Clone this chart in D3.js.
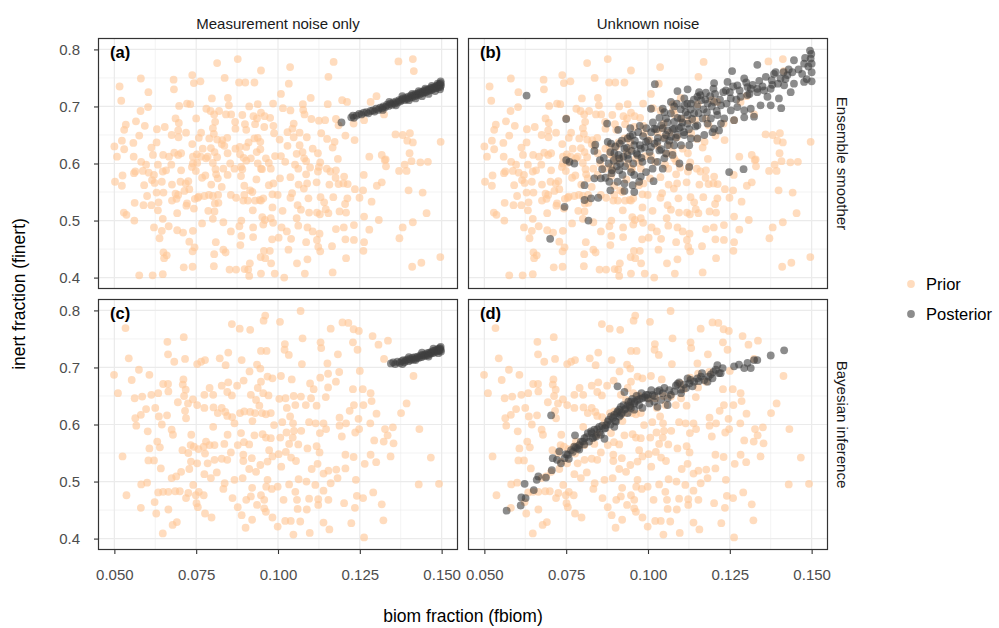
<!DOCTYPE html>
<html><head><meta charset="utf-8">
<script src="https://cdn.jsdelivr.net/npm/d3@7"></script>
<style>body{margin:0;background:#fff}svg{display:block}text{font-family:"Liberation Sans",Arial,sans-serif}</style>
</head><body><svg id="c" width="999" height="628"></svg>
<script>
const colLabels = ["Measurement noise only", "Unknown noise"];
const rowLabels = ["Ensemble smoother", "Bayesian inference"];
const panelTags = ["(a)", "(b)", "(c)", "(d)"];
const seriesNames = ["Prior", "Posterior"];
const xTicks = [0.05, 0.075, 0.1, 0.125, 0.15];
const yTicks = [0.4, 0.5, 0.6, 0.7, 0.8];
const xMinor = [0.0625, 0.0875, 0.1125, 0.1375];
const yMinor = [0.45, 0.55, 0.65, 0.75];
const xTitle = "biom fraction (fbiom)";
const yTitle = "inert fraction (finert)";

// prior sample (same for both panels in the top row)
const priorTop = [[0.0814,0.776],[0.0877,0.783],[0.0948,0.763],[0.0581,0.749],[0.0516,0.735],[0.0681,0.747],[0.0738,0.755],[0.0743,0.741],[0.0763,0.744],[0.0837,0.750],[0.0881,0.742],[0.0900,0.742],[0.0928,0.742],[0.0604,0.725],[0.0682,0.730],[0.0521,0.710],[0.0798,0.714],[0.0847,0.715],[0.0850,0.702],[0.0603,0.699],[0.0698,0.701],[0.0722,0.705],[0.0732,0.704],[0.0781,0.696],[0.0794,0.692],[0.0912,0.700],[0.0938,0.704],[0.0985,0.705],[0.0580,0.692],[0.0687,0.679],[0.0750,0.679],[0.0805,0.686],[0.0820,0.692],[0.0841,0.686],[0.0857,0.686],[0.0891,0.685],[0.0925,0.683],[0.0948,0.689],[0.0976,0.680],[0.0959,0.683],[0.0535,0.668],[0.0566,0.674],[0.0593,0.666],[0.0630,0.660],[0.0654,0.664],[0.0697,0.671],[0.0719,0.654],[0.0808,0.673],[0.0801,0.662],[0.0869,0.673],[0.0870,0.661],[0.0899,0.669],[0.0930,0.669],[0.0936,0.679],[0.0958,0.664],[0.0986,0.666],[0.0903,0.659],[0.0530,0.659],[0.0576,0.649],[0.0675,0.650],[0.0695,0.658],[0.0696,0.646],[0.0758,0.645],[0.0765,0.654],[0.0790,0.644],[0.0804,0.652],[0.0814,0.642],[0.0830,0.641],[0.0845,0.645],[0.0938,0.645],[0.0988,0.653],[0.0928,0.644],[0.0946,0.638],[0.0523,0.640],[0.0500,0.630],[0.0558,0.636],[0.0613,0.628],[0.0629,0.637],[0.0738,0.634],[0.0770,0.626],[0.0795,0.627],[0.0828,0.634],[0.0836,0.631],[0.0870,0.626],[0.0883,0.629],[0.0903,0.629],[0.0910,0.637],[0.0935,0.620],[0.0946,0.625],[0.0530,0.625],[0.0508,0.612],[0.0559,0.612],[0.0618,0.615],[0.0649,0.615],[0.0667,0.612],[0.0695,0.615],[0.0683,0.619],[0.0704,0.618],[0.0740,0.612],[0.0752,0.616],[0.0764,0.612],[0.0785,0.612],[0.0806,0.620],[0.0814,0.611],[0.0846,0.618],[0.0884,0.616],[0.0895,0.610],[0.0917,0.609],[0.0963,0.609],[0.0991,0.613],[0.0582,0.603],[0.0597,0.598],[0.0633,0.598],[0.0674,0.598],[0.0740,0.600],[0.0753,0.601],[0.0737,0.594],[0.0780,0.609],[0.0801,0.601],[0.0854,0.600],[0.0887,0.594],[0.0903,0.605],[0.0938,0.600],[0.0948,0.591],[0.0972,0.601],[0.0564,0.586],[0.0587,0.587],[0.0605,0.584],[0.0621,0.580],[0.0648,0.586],[0.0658,0.588],[0.0704,0.588],[0.0749,0.587],[0.0809,0.590],[0.0833,0.591],[0.0867,0.591],[0.0891,0.590],[0.0951,0.590],[0.0978,0.591],[0.0525,0.579],[0.0502,0.568],[0.0523,0.561],[0.0560,0.583],[0.0591,0.562],[0.0615,0.571],[0.0645,0.568],[0.0623,0.566],[0.0676,0.563],[0.0702,0.568],[0.0718,0.565],[0.0726,0.569],[0.0768,0.575],[0.0778,0.579],[0.0796,0.563],[0.0811,0.581],[0.0816,0.574],[0.0846,0.580],[0.0887,0.578],[0.0934,0.572],[0.0986,0.565],[0.0972,0.562],[0.0600,0.543],[0.0629,0.549],[0.0650,0.549],[0.0687,0.547],[0.0695,0.545],[0.0714,0.552],[0.0729,0.555],[0.0758,0.542],[0.0775,0.543],[0.0789,0.545],[0.0801,0.543],[0.0817,0.545],[0.0828,0.559],[0.0856,0.545],[0.0872,0.540],[0.0897,0.561],[0.0915,0.553],[0.0922,0.550],[0.0944,0.536],[0.0983,0.546],[0.0897,0.545],[0.0562,0.531],[0.0589,0.527],[0.0613,0.527],[0.0635,0.532],[0.0676,0.535],[0.0690,0.538],[0.0722,0.530],[0.0746,0.538],[0.0755,0.540],[0.0743,0.521],[0.0807,0.530],[0.0818,0.531],[0.0894,0.535],[0.0908,0.535],[0.0930,0.535],[0.0948,0.535],[0.0955,0.539],[0.0529,0.514],[0.0537,0.510],[0.0561,0.500],[0.0633,0.518],[0.0648,0.503],[0.0692,0.513],[0.0720,0.526],[0.0787,0.517],[0.0806,0.516],[0.0801,0.503],[0.0833,0.497],[0.0888,0.500],[0.0923,0.518],[0.0952,0.506],[0.0960,0.501],[0.0978,0.504],[0.0983,0.523],[0.0621,0.488],[0.0645,0.482],[0.0666,0.490],[0.0692,0.483],[0.0710,0.479],[0.0740,0.482],[0.0768,0.495],[0.0856,0.481],[0.0882,0.490],[0.0924,0.488],[0.0955,0.493],[0.0985,0.496],[0.0638,0.469],[0.0729,0.463],[0.0745,0.453],[0.0739,0.446],[0.0810,0.462],[0.0805,0.441],[0.0833,0.449],[0.0840,0.444],[0.0888,0.473],[0.0885,0.457],[0.0924,0.471],[0.0957,0.447],[0.0975,0.447],[0.0982,0.467],[0.0650,0.444],[0.0660,0.439],[0.0652,0.434],[0.0712,0.418],[0.0739,0.419],[0.0804,0.420],[0.0852,0.414],[0.0872,0.414],[0.0898,0.415],[0.0914,0.425],[0.0909,0.414],[0.0947,0.436],[0.0961,0.434],[0.0979,0.425],[0.0948,0.407],[0.0990,0.407],[0.0912,0.403],[0.0576,0.404],[0.0617,0.404],[0.0648,0.406],
[0.1037,0.769],[0.1170,0.778],[0.1368,0.779],[0.1412,0.783],[0.1415,0.762],[0.1154,0.752],[0.1033,0.740],[0.1009,0.722],[0.1100,0.715],[0.1076,0.704],[0.1196,0.711],[0.1211,0.708],[0.1152,0.704],[0.1301,0.718],[0.1283,0.708],[0.1015,0.697],[0.1038,0.693],[0.1077,0.694],[0.1081,0.686],[0.1102,0.678],[0.1125,0.675],[0.1144,0.676],[0.1177,0.678],[0.1185,0.667],[0.1231,0.670],[0.1263,0.676],[0.1324,0.686],[0.1048,0.670],[0.1044,0.661],[0.1029,0.655],[0.1066,0.654],[0.1088,0.646],[0.1048,0.646],[0.1132,0.653],[0.1150,0.643],[0.1206,0.649],[0.1234,0.641],[0.1005,0.642],[0.1173,0.638],[0.1066,0.632],[0.1106,0.626],[0.1029,0.631],[0.1122,0.618],[0.1167,0.628],[0.1183,0.608],[0.1279,0.612],[0.1317,0.615],[0.1329,0.607],[0.1359,0.651],[0.1381,0.650],[0.1403,0.653],[0.1395,0.640],[0.1412,0.637],[0.1497,0.638],[0.1009,0.613],[0.1057,0.617],[0.1075,0.620],[0.1080,0.609],[0.1052,0.598],[0.1086,0.604],[0.1022,0.603],[0.1129,0.602],[0.1125,0.594],[0.1149,0.591],[0.1122,0.586],[0.1098,0.593],[0.1062,0.591],[0.1160,0.586],[0.1177,0.588],[0.1330,0.595],[0.1326,0.606],[0.1387,0.598],[0.1370,0.587],[0.1393,0.587],[0.1402,0.618],[0.1408,0.604],[0.1435,0.602],[0.1458,0.603],[0.1006,0.574],[0.1038,0.576],[0.1086,0.581],[0.1089,0.565],[0.1079,0.556],[0.1063,0.563],[0.1118,0.567],[0.1157,0.563],[0.1176,0.575],[0.1202,0.577],[0.1200,0.565],[0.1185,0.564],[0.1213,0.564],[0.1262,0.580],[0.1302,0.561],[0.1317,0.567],[0.1399,0.553],[0.1442,0.549],[0.0999,0.545],[0.1043,0.548],[0.1038,0.540],[0.1093,0.539],[0.1130,0.541],[0.1169,0.541],[0.1141,0.532],[0.1212,0.539],[0.1205,0.529],[0.1235,0.555],[0.1249,0.540],[0.1260,0.553],[0.1286,0.533],[0.1014,0.517],[0.1060,0.527],[0.1070,0.519],[0.1095,0.514],[0.1119,0.514],[0.1128,0.511],[0.1154,0.513],[0.1146,0.520],[0.1188,0.516],[0.1208,0.514],[0.1263,0.507],[0.1308,0.501],[0.1454,0.513],[0.1412,0.497],[0.1057,0.504],[0.1062,0.491],[0.1011,0.488],[0.1027,0.481],[0.1090,0.488],[0.1106,0.481],[0.1127,0.477],[0.1177,0.485],[0.1201,0.488],[0.1232,0.492],[0.1279,0.484],[0.1381,0.488],[0.1371,0.469],[0.1002,0.470],[0.1040,0.468],[0.1086,0.462],[0.1119,0.466],[0.1123,0.454],[0.1129,0.446],[0.1165,0.455],[0.1206,0.467],[0.1232,0.466],[0.1263,0.462],[0.1261,0.447],[0.1032,0.449],[0.1090,0.432],[0.1058,0.425],[0.1208,0.434],[0.1496,0.436],[0.1438,0.426],[0.1410,0.419],[0.1019,0.400],[0.1082,0.407],[0.1167,0.409]];

// prior sample (same for both panels in the bottom row)
const priorBottom = [[0.0534,0.769],[0.0544,0.716],[0.0499,0.687],[0.0511,0.655],[0.0575,0.696],[0.0607,0.687],[0.0553,0.678],[0.0662,0.745],[0.0664,0.723],[0.0712,0.753],[0.0683,0.710],[0.0716,0.715],[0.0753,0.706],[0.0765,0.710],[0.0777,0.713],[0.0822,0.716],[0.0848,0.726],[0.0840,0.704],[0.0859,0.776],[0.0883,0.768],[0.0915,0.766],[0.0889,0.713],[0.0913,0.693],[0.0936,0.705],[0.0948,0.729],[0.0965,0.729],[0.0956,0.782],[0.0961,0.791],[0.0946,0.698],[0.0968,0.684],[0.0983,0.681],[0.0948,0.675],[0.0938,0.664],[0.0955,0.655],[0.0971,0.651],[0.0562,0.646],[0.0585,0.649],[0.0613,0.652],[0.0634,0.655],[0.0649,0.671],[0.0664,0.671],[0.0665,0.658],[0.0711,0.679],[0.0709,0.670],[0.0718,0.661],[0.0713,0.650],[0.0725,0.637],[0.0740,0.644],[0.0753,0.634],[0.0775,0.652],[0.0791,0.664],[0.0802,0.652],[0.0828,0.668],[0.0845,0.657],[0.0859,0.651],[0.0848,0.674],[0.0875,0.668],[0.0895,0.677],[0.0917,0.652],[0.0933,0.643],[0.0943,0.633],[0.0963,0.618],[0.0978,0.620],[0.0564,0.611],[0.0567,0.598],[0.0581,0.617],[0.0597,0.627],[0.0625,0.629],[0.0636,0.614],[0.0645,0.600],[0.0661,0.616],[0.0675,0.591],[0.0679,0.582],[0.0694,0.639],[0.0716,0.624],[0.0719,0.611],[0.0775,0.629],[0.0803,0.630],[0.0816,0.620],[0.0802,0.596],[0.0828,0.629],[0.0839,0.622],[0.0845,0.615],[0.0860,0.613],[0.0867,0.602],[0.0884,0.620],[0.0897,0.623],[0.0915,0.622],[0.0930,0.620],[0.0951,0.620],[0.0922,0.606],[0.0988,0.599],[0.0602,0.588],[0.0631,0.570],[0.0639,0.560],[0.0607,0.558],[0.0525,0.544],[0.0604,0.537],[0.0621,0.537],[0.0642,0.523],[0.0675,0.506],[0.0689,0.509],[0.0704,0.517],[0.0708,0.555],[0.0735,0.582],[0.0733,0.564],[0.0726,0.550],[0.0743,0.561],[0.0757,0.557],[0.0773,0.561],[0.0780,0.570],[0.0791,0.564],[0.0806,0.564],[0.0836,0.566],[0.0846,0.582],[0.0856,0.551],[0.0877,0.564],[0.0896,0.569],[0.0887,0.585],[0.0912,0.565],[0.0928,0.581],[0.0953,0.583],[0.0963,0.577],[0.0978,0.576],[0.0729,0.522],[0.0734,0.535],[0.0753,0.532],[0.0777,0.549],[0.0785,0.532],[0.0806,0.538],[0.0828,0.540],[0.0845,0.538],[0.0894,0.547],[0.0894,0.536],[0.0920,0.541],[0.0946,0.529],[0.0968,0.535],[0.0983,0.544],[0.0973,0.555],[0.0775,0.513],[0.0795,0.506],[0.0813,0.516],[0.0837,0.497],[0.0867,0.503],[0.0892,0.506],[0.0912,0.522],[0.0933,0.517],[0.0968,0.503],[0.0537,0.476],[0.0581,0.454],[0.0600,0.498],[0.0582,0.495],[0.0623,0.464],[0.0628,0.444],[0.0634,0.481],[0.0649,0.482],[0.0665,0.482],[0.0686,0.483],[0.0700,0.483],[0.0665,0.451],[0.0719,0.471],[0.0726,0.480],[0.0741,0.494],[0.0749,0.476],[0.0758,0.482],[0.0773,0.476],[0.0751,0.462],[0.0755,0.455],[0.0777,0.444],[0.0797,0.437],[0.0833,0.487],[0.0861,0.471],[0.0877,0.455],[0.0889,0.441],[0.0903,0.468],[0.0917,0.474],[0.0921,0.489],[0.0936,0.459],[0.0948,0.476],[0.0958,0.468],[0.0958,0.453],[0.0964,0.491],[0.0981,0.487],[0.0691,0.429],[0.0678,0.424],[0.0648,0.409],[0.0921,0.433],[0.0901,0.419],[0.0963,0.447],[0.0983,0.437],
[0.1069,0.799],[0.1006,0.780],[0.1197,0.779],[0.1215,0.778],[0.1231,0.767],[0.1247,0.764],[0.1161,0.768],[0.1021,0.741],[0.1020,0.731],[0.1033,0.722],[0.1075,0.751],[0.1130,0.744],[0.1132,0.734],[0.1229,0.744],[0.1243,0.731],[0.1289,0.755],[0.1307,0.740],[0.1336,0.747],[0.1183,0.723],[0.1073,0.706],[0.1151,0.707],[0.1187,0.692],[0.1250,0.694],[0.1414,0.685],[0.1324,0.715],[0.1009,0.685],[0.1042,0.679],[0.1098,0.672],[0.1129,0.682],[0.1153,0.689],[0.1177,0.675],[0.1153,0.665],[0.1109,0.662],[0.1146,0.648],[0.1229,0.662],[0.1259,0.662],[0.1283,0.655],[0.1286,0.641],[0.1261,0.634],[0.1232,0.634],[0.1219,0.624],[0.1301,0.619],[0.1246,0.610],[0.1188,0.612],[0.1393,0.637],[0.1376,0.620],[0.1004,0.645],[0.1023,0.646],[0.1048,0.650],[0.1070,0.649],[0.1053,0.634],[0.1027,0.629],[0.1037,0.614],[0.1085,0.634],[0.1101,0.646],[0.1118,0.633],[0.1013,0.604],[0.1046,0.602],[0.1049,0.589],[0.1026,0.586],[0.1007,0.577],[0.1034,0.566],[0.1045,0.577],[0.1062,0.565],[0.1071,0.589],[0.1095,0.604],[0.1115,0.602],[0.1139,0.602],[0.1128,0.585],[0.1147,0.592],[0.1188,0.598],[0.1208,0.602],[0.1195,0.579],[0.1236,0.586],[0.1248,0.592],[0.1282,0.602],[0.1327,0.592],[0.1351,0.595],[0.1335,0.581],[0.1323,0.570],[0.1353,0.567],[0.1294,0.572],[0.1432,0.592],[0.1002,0.548],[0.1024,0.552],[0.1055,0.536],[0.1040,0.542],[0.1010,0.526],[0.1090,0.558],[0.1118,0.562],[0.1127,0.551],[0.1121,0.531],[0.1103,0.522],[0.1139,0.514],[0.1154,0.519],[0.1178,0.521],[0.1182,0.506],[0.1206,0.547],[0.1206,0.523],[0.1231,0.543],[0.1283,0.547],[0.1300,0.534],[0.1265,0.531],[0.1344,0.544],[0.1467,0.542],[0.0999,0.491],[0.1034,0.495],[0.1053,0.482],[0.1063,0.504],[0.1087,0.500],[0.1114,0.494],[0.1161,0.497],[0.1238,0.503],[0.1430,0.495],[0.1492,0.496],[0.1017,0.468],[0.1058,0.468],[0.1095,0.470],[0.1123,0.469],[0.1154,0.468],[0.1139,0.484],[0.1202,0.462],[0.1235,0.454],[0.1241,0.475],[0.1260,0.471],[0.1291,0.481],[0.1317,0.460],[0.1060,0.452],[0.1088,0.451],[0.1123,0.459],[0.0999,0.421],[0.1022,0.431],[0.1039,0.431],[0.1068,0.430],[0.1139,0.428],[0.1224,0.427],[0.1322,0.432],[0.1047,0.407],[0.1097,0.410],[0.1157,0.416],[0.1263,0.402]];

// posterior (a): ensemble smoother, measurement noise only
const postA = [[0.1194,0.672],[0.1224,0.681],[0.1229,0.684],[0.1232,0.680],[0.1240,0.684],[0.1248,0.687],[0.1255,0.686],[0.1262,0.689],[0.1270,0.690],[0.1276,0.688],[0.1283,0.692],[0.1290,0.693],[0.1295,0.691],[0.1300,0.696],[0.1306,0.694],[0.1312,0.698],[0.1318,0.697],[0.1322,0.700],[0.1328,0.699],[0.1333,0.703],[0.1338,0.701],[0.1343,0.705],[0.1348,0.703],[0.1352,0.707],[0.1357,0.705],[0.1361,0.709],[0.1366,0.707],[0.1370,0.711],[0.1374,0.709],[0.1378,0.712],[0.1382,0.714],[0.1386,0.711],[0.1390,0.715],[0.1394,0.713],[0.1398,0.717],[0.1402,0.715],[0.1406,0.719],[0.1410,0.716],[0.1414,0.720],[0.1418,0.718],[0.1421,0.722],[0.1425,0.720],[0.1428,0.723],[0.1432,0.721],[0.1435,0.725],[0.1438,0.723],[0.1442,0.726],[0.1445,0.724],[0.1448,0.728],[0.1451,0.725],[0.1454,0.729],[0.1457,0.727],[0.1460,0.730],[0.1463,0.728],[0.1466,0.732],[0.1469,0.729],[0.1472,0.733],[0.1475,0.731],[0.1478,0.734],[0.1481,0.732],[0.1484,0.736],[0.1487,0.733],[0.1490,0.737],[0.1492,0.735],[0.1494,0.739],[0.1496,0.734],[0.1497,0.741],[0.1498,0.737],
[0.1400,0.711],[0.1410,0.722],[0.1420,0.714],[0.1430,0.727],[0.1440,0.718],[0.1450,0.731],[0.1460,0.722],[0.1470,0.736],[0.1480,0.727],[0.1488,0.740],[0.1495,0.730],[0.1497,0.744],[0.1380,0.718],[0.1360,0.702],[0.1340,0.708],[0.1320,0.694]];

// posterior (b): ensemble smoother, unknown noise
const postB = [[0.0629,0.719],[0.0750,0.678],[0.0750,0.606],[0.0760,0.603],[0.0775,0.600],[0.0745,0.524],[0.0818,0.500],[0.0701,0.468],[0.0875,0.670],[0.0909,0.659],[0.0946,0.662],[0.0975,0.666],[0.0938,0.644],[0.0953,0.650],[0.0839,0.633],[0.0836,0.622],[0.0853,0.606],[0.0877,0.638],[0.0887,0.635],[0.0914,0.635],[0.0928,0.626],[0.0958,0.632],[0.0978,0.626],[0.0994,0.638],[0.0897,0.618],[0.0912,0.609],[0.0938,0.615],[0.0968,0.615],[0.0983,0.603],[0.0889,0.583],[0.0912,0.588],[0.0922,0.580],[0.0948,0.585],[0.0958,0.580],[0.0978,0.577],[0.0994,0.585],[0.0806,0.562],[0.0836,0.574],[0.0856,0.574],[0.0882,0.568],[0.0907,0.568],[0.0928,0.565],[0.0953,0.562],[0.0973,0.568],[0.0885,0.553],[0.0928,0.552],[0.0958,0.550],[0.0806,0.536],[0.0826,0.539],[0.0848,0.540],
[0.1495,0.798],[0.1499,0.792],[0.1497,0.784],[0.1500,0.775],[0.1446,0.781],[0.1477,0.775],[0.1500,0.760],[0.1471,0.757],[0.1441,0.760],[0.1414,0.760],[0.1385,0.757],[0.1405,0.749],[0.1426,0.755],[0.1334,0.773],[0.1257,0.762],[0.1378,0.746],[0.1397,0.740],[0.1446,0.740],[0.1477,0.743],[0.1500,0.744],[0.1416,0.737],[0.1375,0.731],[0.1355,0.728],[0.1334,0.731],[0.1294,0.749],[0.1304,0.734],[0.1314,0.731],[0.1273,0.737],[0.1243,0.743],[0.1238,0.728],[0.1202,0.741],[0.1200,0.731],[0.1177,0.724],[0.1156,0.725],[0.1151,0.717],[0.1121,0.730],[0.1111,0.714],[0.1090,0.727],[0.1021,0.739],[0.1070,0.708],[0.1088,0.705],[0.1111,0.702],[0.1131,0.705],[0.1162,0.711],[0.1182,0.705],[0.1202,0.708],[0.1223,0.702],[0.1253,0.714],[0.1283,0.717],[0.1304,0.720],[0.1334,0.725],[0.1365,0.717],[0.1400,0.714],[0.1436,0.725],[0.1407,0.697],[0.1375,0.702],[0.1344,0.702],[0.1314,0.696],[0.1294,0.693],[0.1273,0.699],[0.1253,0.693],[0.1324,0.682],[0.1294,0.681],[0.1263,0.676],[0.1233,0.679],[0.1212,0.685],[0.1192,0.679],[0.1167,0.679],[0.1141,0.688],[0.1121,0.685],[0.1101,0.679],[0.1080,0.673],[0.1055,0.679],[0.1045,0.696],[0.1009,0.696],[0.1019,0.661],[0.1040,0.667],[0.1060,0.658],[0.1080,0.661],[0.1101,0.664],[0.1121,0.670],[0.1151,0.667],[0.1182,0.670],[0.1202,0.661],[0.1223,0.670],[0.1050,0.644],[0.1070,0.647],[0.1090,0.650],[0.1111,0.650],[0.1131,0.644],[0.1151,0.644],[0.1172,0.650],[0.1197,0.655],[0.1217,0.658],[0.1029,0.638],[0.1009,0.629],[0.1060,0.632],[0.1080,0.632],[0.1101,0.632],[0.1126,0.632],[0.1035,0.623],[0.1055,0.618],[0.1075,0.615],[0.1009,0.606],[0.1029,0.603],[0.1050,0.609],[0.1096,0.600],[0.1126,0.594],[0.1045,0.591],[0.1014,0.591],[0.1017,0.569],[0.1248,0.585],[0.1292,0.590],
[0.0860,0.590],[0.0865,0.610],[0.0870,0.575],[0.0880,0.600],[0.0885,0.620],[0.0890,0.588],[0.0895,0.605],[0.0900,0.630],[0.0905,0.595],[0.0910,0.615],[0.0915,0.600],[0.0920,0.640],[0.0925,0.612],[0.0930,0.595],[0.0935,0.628],[0.0940,0.608],[0.0945,0.648],[0.0950,0.622],[0.0955,0.600],[0.0960,0.640],[0.0965,0.618],[0.0970,0.655],[0.0975,0.632],[0.0980,0.610],[0.0985,0.648],[0.0990,0.628],[0.0995,0.662],[0.1000,0.640],[0.1005,0.620],[0.1010,0.655],[0.1015,0.672],[0.1020,0.635],[0.1025,0.660],[0.1030,0.645],[0.1035,0.680],[0.1040,0.625],[0.1045,0.662],[0.1050,0.690],[0.1055,0.650],[0.1060,0.672],[0.1065,0.640],[0.1070,0.688],[0.1075,0.660],[0.1080,0.700],[0.1085,0.645],[0.1090,0.680],[0.1095,0.662],[0.1100,0.695],[0.1105,0.672],[0.1110,0.655],[0.1115,0.690],[0.1120,0.705],[0.1125,0.660],[0.1130,0.695],[0.1135,0.678],[0.1140,0.712],[0.1145,0.665],[0.1150,0.700],[0.1155,0.688],[0.1160,0.720],[0.1170,0.695],[0.1175,0.712],[0.1180,0.690],[0.1190,0.718],[0.1195,0.700],[0.1205,0.722],[0.1210,0.692],[0.1220,0.712],[0.1230,0.725],[0.1240,0.705],[0.1250,0.725],[0.1260,0.735],[0.1270,0.712],[0.1280,0.728],[0.1300,0.742],[0.1310,0.722],[0.1320,0.738],[0.1340,0.745],[0.1350,0.735],[0.1360,0.752],[0.1380,0.738],[0.1390,0.760],[0.1420,0.748],[0.1430,0.765],[0.1460,0.765],[0.1480,0.785],[0.1490,0.770],[0.1485,0.748]];

// posterior (c): Bayesian inference, measurement noise only
const postC = [[0.1345,0.707],[0.1352,0.709],[0.1358,0.706],[0.1365,0.710],[0.1372,0.708],[0.1378,0.711],[0.1383,0.713],[0.1386,0.709],[0.1390,0.712],[0.1395,0.714],[0.1399,0.711],[0.1403,0.715],[0.1407,0.713],[0.1411,0.717],[0.1415,0.714],[0.1419,0.718],[0.1423,0.716],[0.1427,0.719],[0.1431,0.717],[0.1435,0.721],[0.1438,0.718],[0.1442,0.722],[0.1446,0.720],[0.1449,0.723],[0.1452,0.721],[0.1456,0.725],[0.1459,0.722],[0.1462,0.726],[0.1465,0.724],[0.1468,0.727],[0.1471,0.725],[0.1474,0.729],[0.1477,0.726],[0.1480,0.730],[0.1483,0.728],[0.1486,0.731],[0.1489,0.729],[0.1491,0.733],[0.1493,0.730],[0.1495,0.734],[0.1497,0.731],[0.1498,0.728],
[0.1420,0.713],[0.1440,0.726],[0.1460,0.719],[0.1475,0.733],[0.1490,0.725],[0.1497,0.736],[0.1400,0.718],[0.1380,0.706]];

// posterior (d): Bayesian inference, unknown noise
const postD = [[0.0568,0.449],[0.0611,0.458],[0.0626,0.471],[0.0613,0.472],[0.0651,0.485],[0.0623,0.496],[0.0660,0.503],[0.0665,0.509],[0.0688,0.507],[0.0706,0.520],[0.0709,0.541],[0.0722,0.538],[0.0729,0.553],[0.0745,0.541],[0.0734,0.532],[0.0755,0.547],[0.0765,0.555],[0.0775,0.561],[0.0777,0.581],[0.0790,0.564],[0.0806,0.576],[0.0816,0.585],[0.0826,0.588],[0.0836,0.591],[0.0841,0.579],[0.0856,0.582],[0.0867,0.575],[0.0867,0.593],[0.0877,0.605],[0.0887,0.614],[0.0897,0.617],[0.0907,0.623],[0.0917,0.631],[0.0928,0.626],[0.0938,0.634],[0.0948,0.629],[0.0958,0.637],[0.0968,0.643],[0.0983,0.646],[0.0994,0.652],[0.0907,0.667],[0.0928,0.657],[0.0704,0.616],[0.0785,0.558],[0.0801,0.570],[0.0831,0.576],[0.0851,0.596],[0.0872,0.599],[0.0902,0.605],[0.0912,0.614],[0.0938,0.620],[0.0958,0.626],[0.0983,0.629],[0.0897,0.596],[0.0917,0.617],[0.0948,0.640],[0.0973,0.634],
[0.0999,0.646],[0.1014,0.652],[0.1029,0.658],[0.1045,0.655],[0.1004,0.637],[0.1019,0.640],[0.1040,0.643],[0.1060,0.646],[0.1070,0.652],[0.1080,0.658],[0.1090,0.671],[0.1101,0.661],[0.1116,0.664],[0.1121,0.681],[0.1126,0.672],[0.1136,0.667],[0.1151,0.681],[0.1162,0.684],[0.1172,0.678],[0.1182,0.675],[0.1197,0.681],[0.1207,0.696],[0.1217,0.690],[0.1228,0.699],[0.1263,0.702],[0.1278,0.705],[0.1294,0.699],[0.1304,0.708],[0.1314,0.699],[0.1324,0.713],[0.1334,0.713],[0.1375,0.721],[0.1416,0.730],[0.1060,0.634],[0.1029,0.631],[0.1101,0.655],[0.1141,0.675],[0.1192,0.688],
[0.0750,0.548],[0.0758,0.540],[0.0770,0.552],[0.0780,0.560],[0.0790,0.556],[0.0795,0.570],[0.0805,0.565],[0.0812,0.578],[0.0820,0.570],[0.0828,0.585],[0.0835,0.578],[0.0845,0.592],[0.0852,0.586],[0.0860,0.598],[0.0870,0.594],[0.0880,0.608],[0.0885,0.600],[0.0893,0.612],[0.0900,0.606],[0.0905,0.620],[0.0912,0.626],[0.0920,0.620],[0.0925,0.634],[0.0932,0.628],[0.0940,0.640],[0.0945,0.632],[0.0952,0.645],[0.0960,0.640],[0.0965,0.650],[0.0975,0.645],[0.0980,0.655],[0.0990,0.648],[0.1000,0.652],[0.1010,0.660],[0.1020,0.650],[0.1035,0.660],[0.1050,0.664],[0.1065,0.660],[0.1085,0.668],[0.1095,0.674],[0.1110,0.670],[0.1130,0.678],[0.1155,0.676],[0.1165,0.690],[0.1185,0.684],[0.1200,0.692],[0.1212,0.704],[0.1222,0.690]];

const svg = d3.select("#c");
const W = 360, H = 251;
const colX = [98, 468], rowY = [38, 299];
const x = d3.scaleLinear().domain([0.045, 0.155]).range([0, W]);
const y = d3.scaleLinear().domain([0.38, 0.82]).range([H, 0]);
const priorFill = "#ffc796", priorOp = 0.62;
const postFill = "#404040", postOp = 0.6;
const R = 3.9;

const panels = [
  {row:0, col:0, prior:priorTop, post:postA, tag:panelTags[0]},
  {row:0, col:1, prior:priorTop, post:postB, tag:panelTags[1]},
  {row:1, col:0, prior:priorBottom, post:postC, tag:panelTags[2]},
  {row:1, col:1, prior:priorBottom, post:postD, tag:panelTags[3]}
];

panels.forEach((p, i) => {
  const g = svg.append("g").attr("transform", `translate(${colX[p.col]},${rowY[p.row]})`);
  g.append("clipPath").attr("id", "clip" + i).append("rect").attr("width", W).attr("height", H);
  const grid = g.append("g").attr("stroke", "#ebebeb");
  grid.selectAll(null).data(xMinor).enter().append("line")
    .attr("x1", d => x(d)).attr("x2", d => x(d)).attr("y1", 0).attr("y2", H).attr("stroke-width", 0.6);
  grid.selectAll(null).data(yMinor).enter().append("line")
    .attr("y1", d => y(d)).attr("y2", d => y(d)).attr("x1", 0).attr("x2", W).attr("stroke-width", 0.6);
  grid.selectAll(null).data(xTicks).enter().append("line")
    .attr("x1", d => x(d)).attr("x2", d => x(d)).attr("y1", 0).attr("y2", H).attr("stroke-width", 1.2);
  grid.selectAll(null).data(yTicks).enter().append("line")
    .attr("y1", d => y(d)).attr("y2", d => y(d)).attr("x1", 0).attr("x2", W).attr("stroke-width", 1.2);

  const pts = g.append("g").attr("clip-path", `url(#clip${i})`);
  pts.selectAll(null).data(p.prior).enter().append("circle")
    .attr("cx", d => x(d[0])).attr("cy", d => y(d[1])).attr("r", R)
    .attr("fill", priorFill).attr("fill-opacity", priorOp);
  pts.selectAll(null).data(p.post).enter().append("circle")
    .attr("cx", d => x(d[0])).attr("cy", d => y(d[1])).attr("r", R)
    .attr("fill", postFill).attr("fill-opacity", postOp);

  g.append("rect").attr("x", 0.5).attr("y", 0.5).attr("width", W - 1).attr("height", H - 1)
    .attr("fill", "none").attr("stroke", "#333").attr("stroke-width", 1.2);

  g.append("text").attr("x", 12).attr("y", 20).text(p.tag)
    .attr("font-size", 16.5).attr("font-weight", "bold").attr("fill", "#000");

  if (p.col === 0) {
    const ax = g.append("g").call(d3.axisLeft(y).tickValues(yTicks).tickFormat(d3.format(".1f")).tickSize(4).tickPadding(14));
    ax.select(".domain").remove();
    ax.attr("font-size", 15).attr("font-family", "Liberation Sans, Arial, sans-serif");
    ax.selectAll("line").attr("stroke", "#333").attr("stroke-width", 1.1);
    ax.selectAll("text").attr("fill", "#4d4d4d");
  }
  if (p.row === 1) {
    const ax = g.append("g").attr("transform", `translate(0,${H})`)
      .call(d3.axisBottom(x).tickValues(xTicks).tickFormat(d3.format(".3f")).tickSize(4).tickPadding(15));
    ax.select(".domain").remove();
    ax.attr("font-size", 15).attr("font-family", "Liberation Sans, Arial, sans-serif");
    ax.selectAll("line").attr("stroke", "#333").attr("stroke-width", 1.1);
    ax.selectAll("text").attr("fill", "#4d4d4d");
  }
});

// column strips
colLabels.forEach((t, c) => {
  svg.append("text").attr("x", colX[c] + W / 2).attr("y", 29).attr("text-anchor", "middle")
    .attr("font-size", 15).attr("fill", "#1a1a1a").text(t);
});
// row strips
rowLabels.forEach((t, r) => {
  const cy = rowY[r] + H / 2;
  svg.append("text").attr("transform", `translate(842,${cy}) rotate(90)`)
    .attr("text-anchor", "middle").attr("dominant-baseline", "central")
    .attr("font-size", 15).attr("fill", "#1a1a1a").text(t);
});

// axis titles
svg.append("text").attr("x", (colX[0] + colX[1] + W) / 2).attr("y", 622).attr("text-anchor", "middle")
  .attr("font-size", 17.5).attr("fill", "#000").text(xTitle);
svg.append("text").attr("transform", `translate(19,${(rowY[0] + rowY[1] + H) / 2}) rotate(-90)`)
  .attr("text-anchor", "middle").attr("dominant-baseline", "central")
  .attr("font-size", 17.5).attr("fill", "#000").text(yTitle);

// legend
const legY = [284, 314];
seriesNames.forEach((s, k) => {
  svg.append("circle").attr("cx", 911).attr("cy", legY[k]).attr("r", R)
    .attr("fill", k === 0 ? priorFill : postFill).attr("fill-opacity", k === 0 ? priorOp : postOp);
  svg.append("text").attr("x", 926).attr("y", legY[k]).attr("dominant-baseline", "central")
    .attr("font-size", 16.5).attr("fill", "#000").text(s);
});
</script>
</body></html>
